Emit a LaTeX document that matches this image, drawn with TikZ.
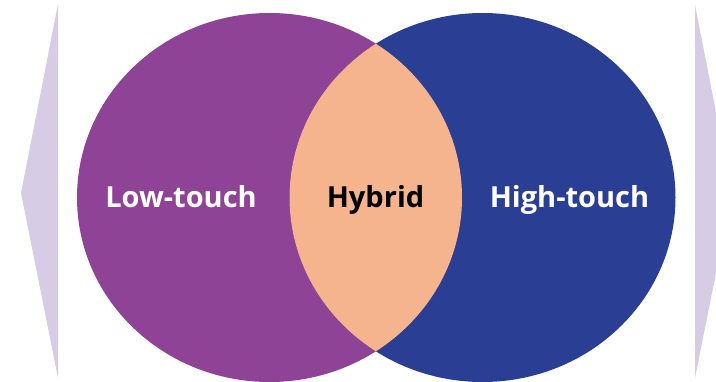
\documentclass[tikz,border=0pt]{standalone}
\usepackage{fontspec}
\setmainfont{Open Sans}
\definecolor{lowc}{HTML}{8F4396}
\definecolor{highc}{HTML}{2A3F93}
\definecolor{hybc}{HTML}{F6B48E}
\definecolor{arrc}{HTML}{D6CCE6}
\begin{document}
\begin{tikzpicture}[x=1pt,y=-1pt,
  lbl/.style={font=\bfseries\fontsize{29}{35}\selectfont, anchor=base, inner sep=0pt}]
\useasboundingbox (0,0) rectangle (716,381);
\clip (0,0) rectangle (716,381);
\fill[arrc] (58,4) -- (21,193) -- (58,378) -- cycle;
\fill[arrc] (695,5) -- (732,193) -- (695,378) -- cycle;
\fill[lowc] (269.5,197.5) ellipse [x radius=192.5, y radius=184.5];
\fill[highc] (482.5,197.5) ellipse [x radius=193, y radius=184.5];
\begin{scope}
  \clip (269.5,197.5) ellipse [x radius=192.5, y radius=184.5];
  \fill[hybc] (482.5,197.5) ellipse [x radius=193, y radius=184.5];
\end{scope}
\node[lbl, text=white] (low) at (181,207.5) {Low-touch};
\node[lbl, text=black] (hyb) at (375.5,207.5) {Hybrid};
\node[lbl, text=white] (high) at (569.5,207.5) {High-touch};
\end{tikzpicture}
\end{document}
